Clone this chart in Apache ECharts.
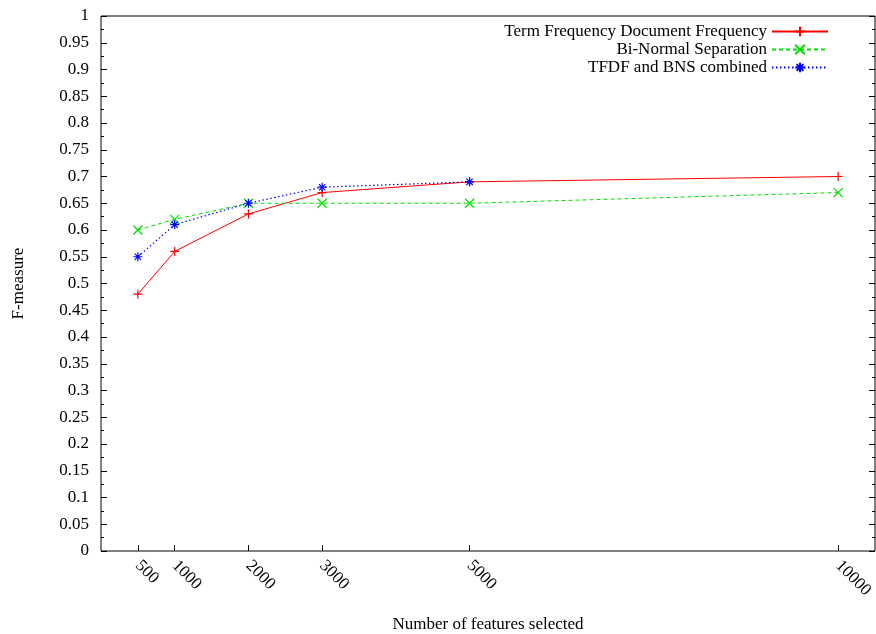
<!DOCTYPE html>
<html>
<head>
<meta charset="utf-8">
<script src="https://cdn.jsdelivr.net/npm/echarts@6/dist/echarts.min.js"></script>
<style>
html,body{margin:0;padding:0;background:#fff;}
#main{width:876px;height:634px;}
</style>
</head>
<body>
<div id="main"></div>
<script>
const xTicks = [500, 1000, 2000, 3000, 5000, 10000];
const tfdfX = [500, 1000, 2000, 3000, 5000, 10000];
const tfdfY = [0.48, 0.56, 0.63, 0.67, 0.69, 0.70];
const bnsX = [500, 1000, 2000, 3000, 5000, 10000];
const bnsY = [0.60, 0.62, 0.65, 0.65, 0.65, 0.67];
const combX = [500, 1000, 2000, 3000, 5000];
const combY = [0.55, 0.61, 0.65, 0.68, 0.69];
const seriesNames = ['Term Frequency Document Frequency', 'Bi-Normal Separation', 'TFDF and BNS combined'];

const FONT = 'Liberation Serif';
const FS = 17;
const plus = 'path://M5,0L5,10M0,5L10,5';
const cross = 'path://M0,0L10,10M0,10L10,0';
const star = 'path://M5,0L5,10M0,5L10,5M1.5,1.5L8.5,8.5M1.5,8.5L8.5,1.5';

function pairs(xs, ys) { return xs.map((x, i) => [x, ys[i]]); }

function mk(name, xs, ys, color, type, sym, w) {
  return {
    name: name, type: 'line', data: pairs(xs, ys),
    symbol: sym, symbolSize: 9, showSymbol: true,
    lineStyle: { color: color, width: w, type: type },
    itemStyle: { color: 'rgba(0,0,0,0)', borderColor: color, borderWidth: 1.2 },
    emphasis: { disabled: true }, animation: false
  };
}

const chart = echarts.init(document.getElementById('main'), null, { renderer: 'canvas' });
chart.setOption({
  animation: false,
  backgroundColor: '#fff',
  textStyle: { fontFamily: FONT, color: '#000' },
  grid: { left: 101, right: 1, top: 16, bottom: 83, show: true, borderColor: '#000', borderWidth: 1, backgroundColor: 'transparent', containLabel: false, outerBoundsMode: 'none' },
  legend: {
    orient: 'vertical', align: 'right', right: 42, top: 18,
    itemWidth: 56, itemHeight: 12, itemGap: 1,
    textStyle: { fontFamily: FONT, fontSize: FS, color: '#000', lineHeight: 16 },
    data: seriesNames
  },
  xAxis: {
    type: 'value', min: 0, max: 10500,
    name: 'Number of features selected', nameLocation: 'middle', nameGap: 65,
    nameTextStyle: { fontFamily: FONT, fontSize: FS, color: '#000' },
    axisLine: { show: false },
    splitLine: { show: false },
    axisTick: { show: true, inside: true, length: 6, lineStyle: { color: '#000' }, customValues: xTicks },
    axisLabel: { show: true, rotate: -45, margin: 12, fontFamily: FONT, fontSize: FS, color: '#000', customValues: xTicks, formatter: v => String(v) }
  },
  yAxis: [{
    type: 'value', min: 0, max: 1, interval: 0.05,
    name: 'F-measure', nameLocation: 'middle', nameGap: 74,
    nameTextStyle: { fontFamily: FONT, fontSize: FS, color: '#000' },
    axisLine: { show: false },
    splitLine: { show: false },
    axisTick: { show: true, inside: true, length: 6, lineStyle: { color: '#000' } },
    minorTick: { show: true, splitNumber: 2, length: 3, lineStyle: { color: '#000' } },
    axisLabel: { margin: 12, fontFamily: FONT, fontSize: FS, color: '#000', formatter: v => String(+v.toFixed(2)) }
  }, {
    type: 'value', min: 0, max: 1, interval: 0.05, position: 'right',
    axisLine: { show: false }, splitLine: { show: false },
    axisTick: { show: true, inside: true, length: 6, lineStyle: { color: '#000' } },
    minorTick: { show: true, splitNumber: 2, length: 3, lineStyle: { color: '#000' } },
    axisLabel: { show: false }
  }],
  series: [
    mk(seriesNames[0], tfdfX, tfdfY, '#ff0000', 'solid', plus, 1),
    mk(seriesNames[1], bnsX, bnsY, '#00e000', [4, 3], cross, 1),
    mk(seriesNames[2], combX, combY, '#0000ff', [1.5, 2.5], star, 1.2)
  ]
});
</script>
</body>
</html>
